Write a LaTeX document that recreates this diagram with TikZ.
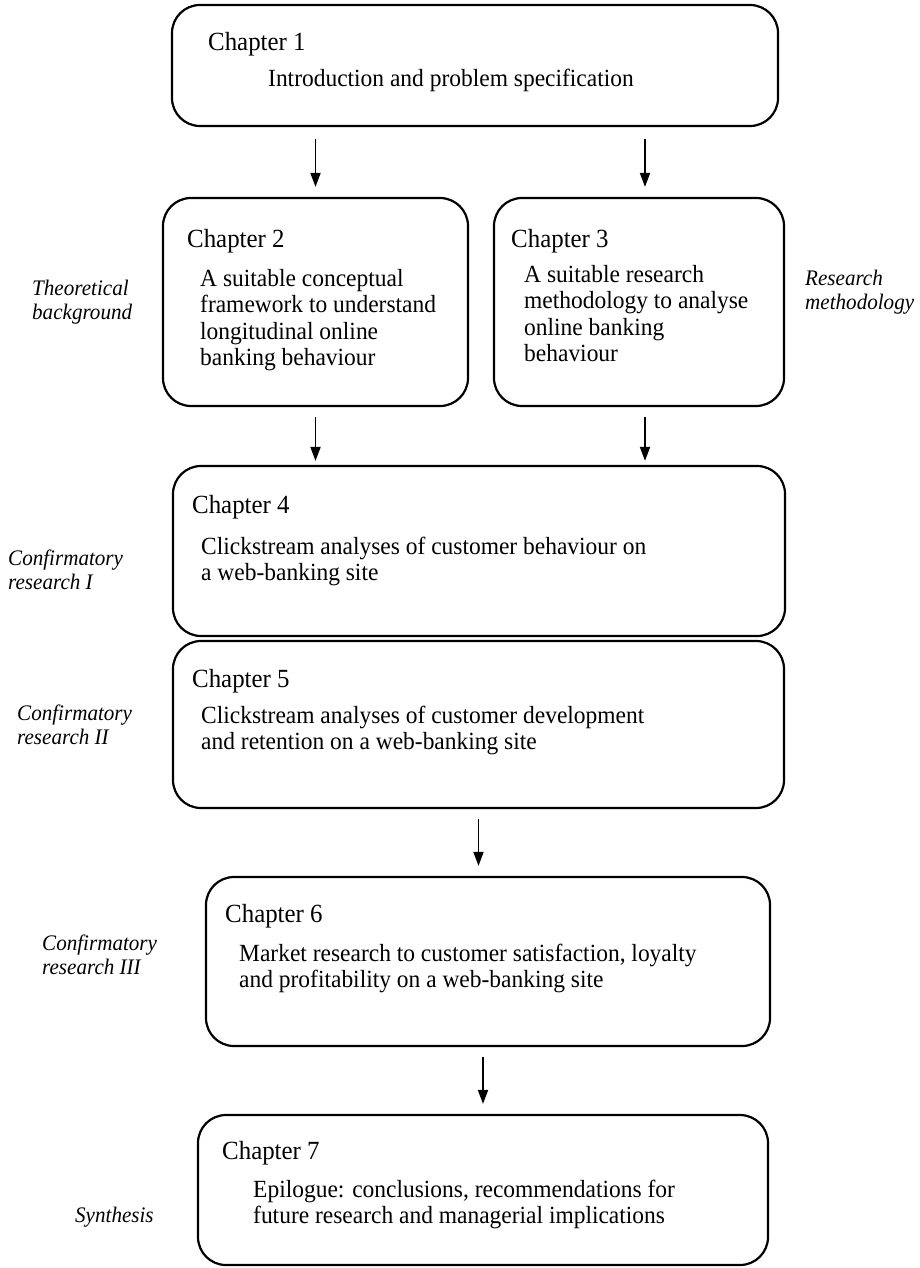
\documentclass[tikz,border=0pt]{standalone}
\usepackage{fontspec}
\setmainfont{Liberation Serif}[FakeStretch=0.95]
\usetikzlibrary{arrows.meta}

\newcommand{\rows}[1]{\begin{tabular}[t]{@{}l@{}}#1\end{tabular}}

\tikzset{
  chapbox/.style={draw, line width=2.2pt, rounded corners=28pt, inner sep=0pt},
  head/.style={anchor=base west, inner sep=0pt, font=\fontsize{26.2}{28}\selectfont},
  body/.style={anchor=base west, inner sep=0pt, font=\fontsize{24.7}{26.5}\selectfont},
  side/.style={anchor=base west, inner sep=0pt, font=\fontsize{22.2}{24}\selectfont\itshape},
  flow/.style={-{Triangle[length=14pt,width=10pt]}, line width=1.8pt, shorten <=10pt, shorten >=10pt}
}

\begin{document}
\begin{tikzpicture}[x=1pt,y=-1pt]
  \useasboundingbox (0,0) rectangle (920,1268);

  % chapter boxes
  \node[chapbox, minimum width=606pt, minimum height=121pt] (c1) at (475,65.5) {};
  \node[chapbox, minimum width=305pt, minimum height=208pt] (c2) at (315.5,302) {};
  \node[chapbox, minimum width=290pt, minimum height=208pt] (c3) at (639,302) {};
  \node[chapbox, minimum width=612pt, minimum height=170pt] (c4) at (479,551) {};
  \node[chapbox, minimum width=611pt, minimum height=167pt] (c5) at (478.5,724.5) {};
  \node[chapbox, minimum width=564pt, minimum height=169pt] (c6) at (488,961.5) {};
  \node[chapbox, minimum width=570pt, minimum height=150pt] (c7) at (483,1190) {};

  % texts in the boxes
  \node[head] (h1) at (208,51) {Chapter 1};
  \node[body] (t1) at (268,87) {Introduction and problem specification};
  \node[head] (h2) at (187,247) {Chapter 2};
  \node[body] (t2) at (200,286) {\rows{A suitable conceptual\\ framework to understand\\ longitudinal online\\ banking behaviour}};
  \node[head] (h3) at (511,247) {Chapter 3};
  \node[body] (t3) at (524,282) {\rows{A suitable research\\ methodology to analyse\\ online banking\\ behaviour}};
  \node[head] (h4) at (192,513) {Chapter 4};
  \node[body] (t4) at (201,554) {\rows{Clickstream analyses of customer behaviour on\\ a web-banking site}};
  \node[head] (h5) at (192,687) {Chapter 5};
  \node[body] (t5) at (201,723) {\rows{Clickstream analyses of customer development\\ and retention on a web-banking site}};
  \node[head] (h6) at (225,922) {Chapter 6};
  \node[body] (t6) at (239,961) {\rows{Market research to customer satisfaction, loyalty\\ and profitability on a web-banking site}};
  \node[head] (h7) at (222,1159) {Chapter 7};
  \node[body] (t7) at (253,1197) {\rows{Epilogue: conclusions, recommendations for\\ future research and managerial implications}};

  % side labels
  \node[side] (s2) at (32,295) {\rows{Theoretical\\ background}};
  \node[side] (s3) at (805,285) {\rows{Research\\ methodology}};
  \node[side] (s4) at (8,565) {\rows{Confirmatory\\ research I}};
  \node[side] (s5) at (17,720) {\rows{Confirmatory\\ research II}};
  \node[side] (s6) at (42,950) {\rows{Confirmatory\\ research III}};
  \node[side] (s7) at (75,1222) {Synthesis};

  % arrows
  \coordinate (a3) at ([xshift=6pt]c3.north);
  \draw[flow, shorten <=12pt] (c1.south -| c2.north) -- (c2.north);
  \draw[flow, shorten <=12pt] (c1.south -| a3) -- (a3);
  \draw[flow, shorten >=4pt] (c2.south) -- (c2.south |- c4.north);
  \draw[flow, shorten >=4pt] (c3.south -| a3) -- (c4.north -| a3);
  \draw[flow] (c5.south) -- (c5.south |- c6.north);
  \draw[flow] (c6.south -| c7.north) -- (c7.north);
\end{tikzpicture}
\end{document}
